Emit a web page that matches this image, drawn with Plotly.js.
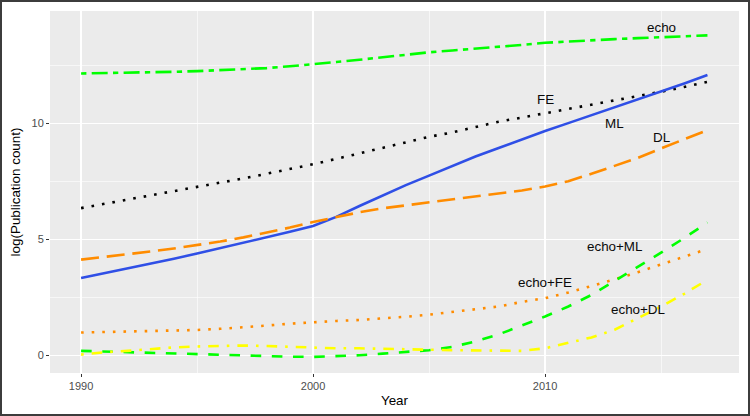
<!DOCTYPE html>
<html>
<head>
<meta charset="utf-8">
<script src="https://cdn.plot.ly/plotly-3.0.1.min.js"></script>
<style>
  html, body { margin: 0; padding: 0; background: #fff; }
  #wrap { position: relative; width: 750px; height: 416px; }
  #chart { width: 750px; height: 416px; }
  #frame { position: absolute; left: 0; top: 0; width: 750px; height: 416px; box-sizing: border-box; border: 2px solid #3c3c3c; pointer-events: none; }
</style>
</head>
<body>
<div id="wrap"><div id="chart"></div><div id="frame"></div></div>
<script>
const years = [1990,1991,1992,1993,1994,1995,1996,1997,1998,1999,2000,2001,2002,2003,2004,2005,2006,2007,2008,2009,2010,2011,2012,2013,2014,2015,2016,2017];

const echo   = [12.14,12.15,12.17,12.19,12.21,12.24,12.28,12.32,12.37,12.45,12.53,12.63,12.73,12.84,12.95,13.05,13.13,13.20,13.27,13.37,13.46,13.52,13.57,13.62,13.66,13.69,13.73,13.78];
const fe     = [6.34,6.52,6.70,6.88,7.05,7.23,7.42,7.62,7.82,8.02,8.23,8.46,8.70,8.93,9.17,9.41,9.60,9.84,10.06,10.24,10.42,10.60,10.78,10.97,11.16,11.35,11.56,11.78];
const ml     = [3.33,3.53,3.74,3.95,4.16,4.38,4.61,4.84,5.08,5.32,5.57,5.96,6.43,6.89,7.33,7.74,8.16,8.56,8.93,9.30,9.66,10.00,10.34,10.67,11.01,11.36,11.71,12.07];
const dl     = [4.12,4.23,4.35,4.47,4.60,4.74,4.90,5.08,5.28,5.50,5.74,5.96,6.16,6.33,6.46,6.57,6.72,6.86,6.97,7.10,7.27,7.50,7.82,8.16,8.50,8.91,9.30,9.70];
const echoFE = [0.98,1.00,1.02,1.03,1.05,1.09,1.14,1.20,1.28,1.36,1.43,1.48,1.52,1.58,1.66,1.75,1.86,1.97,2.10,2.30,2.46,2.70,2.98,3.27,3.58,3.91,4.23,4.58];
const echoML = [0.19,0.16,0.13,0.10,0.07,0.05,0.02,0.00,-0.03,-0.06,-0.07,-0.05,0.00,0.07,0.14,0.22,0.36,0.60,0.90,1.27,1.67,2.10,2.60,3.20,3.80,4.42,5.05,5.72];
const echoDL = [0.03,0.13,0.19,0.28,0.34,0.38,0.41,0.42,0.40,0.36,0.32,0.30,0.30,0.29,0.27,0.24,0.22,0.21,0.19,0.19,0.30,0.52,0.77,1.10,1.60,2.10,2.65,3.25];

const labelText = ["echo","FE","ML","DL","echo+ML","echo+FE","echo+DL"];
const labelX    = [2015, 2010, 2013, 2015, 2013, 2010, 2014];
const labelY    = [14.1, 11.0, 10.0, 9.4, 4.67, 3.15, 1.97];

const xTicks = [1990, 2000, 2010];
const yTicks = [0, 5, 10];

const W = 2.6;
function line(y, color, dash) {
  return { x: years, y: y, type: 'scatter', mode: 'lines', hoverinfo: 'skip',
           line: { color: color, width: W, dash: dash } };
}
const traces = [
  line(echo,   '#00ff00', '5.3px,5.3px,16px,5.3px'),
  line(fe,     '#000000', '2.6px,8px'),
  line(ml,     '#2f4fe6', 'solid'),
  line(dl,     '#ff8c00', '18px,7.8px'),
  line(echoFE, '#ff8c00', '2.6px,8px'),
  line(echoML, '#00ff00', '10.6px,10.6px'),
  line(echoDL, '#ffff00', '2.6px,8px,10.6px,8px')
];

const annotations = labelText.map((t, i) => ({
  x: labelX[i], y: labelY[i], xref: 'x', yref: 'y', text: t, showarrow: false,
  xanchor: 'center', yanchor: 'middle',
  font: { family: 'Liberation Sans, Arial, sans-serif', size: 13.4, color: '#0a0a0a' }
}));

const font = 'Liberation Sans, Arial, sans-serif';
const layout = {
  width: 750, height: 416,
  margin: { l: 50, r: 11, t: 11, b: 43 },
  paper_bgcolor: '#ffffff', plot_bgcolor: '#ebebeb',
  showlegend: false,
  xaxis: {
    range: [1988.66, 2018.36], tickvals: xTicks, ticktext: xTicks.map(String),
    ticks: 'outside', ticklen: 3, tickwidth: 1.1, tickcolor: '#333',
    showgrid: true, gridcolor: '#ffffff', gridwidth: 1.2, zeroline: false, showline: false,
    minor: { dtick: 5, tick0: 1990, showgrid: true, gridcolor: '#ffffff', gridwidth: 0.6, ticks: '' },
    tickfont: { family: font, size: 11, color: '#4d4d4d' },
    title: { text: 'Year', font: { family: font, size: 13.4, color: '#000' }, standoff: 4 }
  },
  yaxis: {
    range: [-0.763, 14.83], tickvals: yTicks, ticktext: yTicks.map(String),
    ticks: 'outside', ticklen: 3, tickwidth: 1.1, tickcolor: '#333',
    showgrid: true, gridcolor: '#ffffff', gridwidth: 1.2, zeroline: false, showline: false,
    minor: { dtick: 2.5, tick0: 0, showgrid: true, gridcolor: '#ffffff', gridwidth: 0.6, ticks: '' },
    tickfont: { family: font, size: 11, color: '#4d4d4d' },
    title: { text: 'log(Publication count)', font: { family: font, size: 13.4, color: '#000' }, standoff: 7 }
  },
  annotations: annotations
};

Plotly.newPlot('chart', traces, layout, { staticPlot: true, displayModeBar: false });
</script>
</body>
</html>
